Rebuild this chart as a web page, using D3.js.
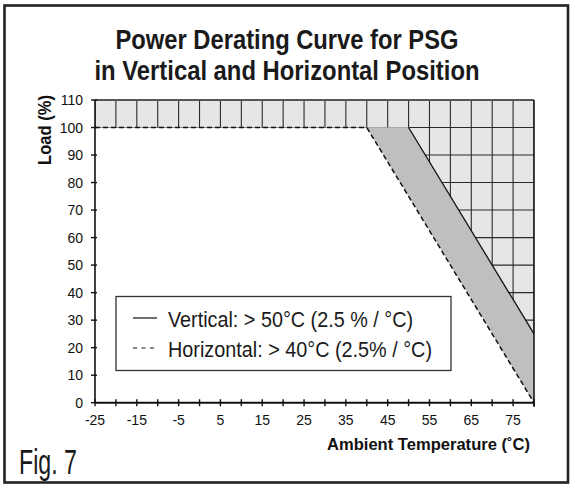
<!DOCTYPE html>
<html>
<head>
<meta charset="utf-8">
<script src="https://cdn.jsdelivr.net/npm/d3@7"></script>
<style>
	body { margin: 0; background: #fff; }
	svg { display: block; font-family: "Liberation Sans", Arial, sans-serif; }
</style>
</head>
<body>
<div id="chart"></div>
<script>
// Chart data
//---------------------------------------------------------------------------
var verticalTemp = [-25, 50, 80];
var verticalLoad = [100, 100, 25];
var horizontalTemp = [-25, 40, 80];
var horizontalLoad = [100, 100, 0];
var xTickLabels = [-25, -15, -5, 5, 15, 25, 35, 45, 55, 65, 75];
var xTicks = d3.range(-25, 81, 5);
var yTicks = [0, 10, 20, 30, 40, 50, 60, 70, 80, 90, 100, 110];
var legendLabels = ["Vertical: > 50°C (2.5 % / °C)", "Horizontal: > 40°C (2.5% / °C)"];
var titleLines = ["Power Derating Curve for PSG", "in Vertical and Horizontal Position"];

// Canvas and scales
//---------------------------------------------------------------------------
var W = 571, H = 488;
var svg = d3.select("#chart").append("svg")
	.attr("width", W)
	.attr("height", H);

var x = d3.scaleLinear().domain([-25, 80]).range([95, 534]);
var y = d3.scaleLinear().domain([0, 110]).range([402.7, 100]);

// squeeze text to a narrow face width
function squeeze(sel, w) {
	sel.attr("textLength", w).attr("lengthAdjust", "spacingAndGlyphs");
}

// outer frame
svg.append("rect")
	.attr("x", 4.5).attr("y", 5.5)
	.attr("width", 563.5).attr("height", 477)
	.attr("fill", "none")
	.attr("stroke", "#222")
	.attr("stroke-width", 2.6);

// title
svg.selectAll("text.title")
	.data(titleLines).enter()
	.append("text")
	.attr("class", "title")
	.attr("x", 287)
	.attr("y", function(d, i) { return 48.5 + i * 31; })
	.attr("text-anchor", "middle")
	.attr("font-size", "28px")
	.attr("font-weight", "bold")
	.attr("fill", "#1a1a1a")
	.text(function(d) { return d; })
	.each(function(d, i) { squeeze(d3.select(this), i == 0 ? 343 : 385); });

// Plot regions
//---------------------------------------------------------------------------
var vert = verticalTemp.map(function(t, i) { return [t, verticalLoad[i]]; });
var horiz = horizontalTemp.map(function(t, i) { return [t, horizontalLoad[i]]; });
var line = d3.line()
	.x(function(d) { return x(d[0]); })
	.y(function(d) { return y(d[1]); });

// region above the vertical curve (gridded)
var gridArea = [[-25, 110], [80, 110]].concat(vert.slice().reverse());
svg.append("clipPath").attr("id", "gridClip")
	.append("path").attr("d", line(gridArea) + "Z");

svg.append("path")
	.attr("d", line(gridArea) + "Z")
	.attr("fill", "#e6e6e6");

var grid = svg.append("g").attr("clip-path", "url(#gridClip)")
	.attr("stroke", "#2a2a2a")
	.attr("stroke-width", 1.1);
grid.selectAll("line.v")
	.data(xTicks).enter()
	.append("line")
	.attr("x1", function(d) { return x(d); })
	.attr("x2", function(d) { return x(d); })
	.attr("y1", y(0)).attr("y2", y(110));
grid.selectAll("line.h")
	.data(yTicks).enter()
	.append("line")
	.attr("x1", x(-25)).attr("x2", x(80))
	.attr("y1", function(d) { return y(d); })
	.attr("y2", function(d) { return y(d); });

// band between horizontal and vertical curves
var band = horiz.slice(1).concat(vert.slice(1).reverse());
svg.append("path")
	.attr("d", line(band) + "Z")
	.attr("fill", "#bfbfbf");

// plot border top and right
svg.append("line")
	.attr("x1", x(-25)).attr("x2", x(80))
	.attr("y1", y(110)).attr("y2", y(110))
	.attr("stroke", "#555").attr("stroke-width", 2);
svg.append("line")
	.attr("x1", x(80)).attr("x2", x(80))
	.attr("y1", y(110)).attr("y2", y(0) + 4)
	.attr("stroke", "#1a1a1a").attr("stroke-width", 1.6);

// curves
svg.append("path")
	.attr("d", line(vert.slice(1)))
	.attr("fill", "none")
	.attr("stroke", "#111")
	.attr("stroke-width", 1.3);
svg.append("path")
	.attr("d", line(horiz))
	.attr("fill", "none")
	.attr("stroke", "#111")
	.attr("stroke-width", 1.5)
	.attr("stroke-dasharray", "5,3");

// Axes
//---------------------------------------------------------------------------
var axisG = svg.append("g").attr("stroke", "#111");
axisG.append("line")
	.attr("x1", x(-25)).attr("x2", x(-25))
	.attr("y1", y(0)).attr("y2", y(110))
	.attr("stroke-width", 1.6);
axisG.append("line")
	.attr("x1", x(-25)).attr("x2", x(80))
	.attr("y1", y(0)).attr("y2", y(0))
	.attr("stroke-width", 2);
axisG.selectAll("line.yt")
	.data(yTicks).enter()
	.append("line")
	.attr("x1", x(-25) - 4).attr("x2", x(-25) + 2)
	.attr("y1", function(d) { return y(d); })
	.attr("y2", function(d) { return y(d); })
	.attr("stroke-width", 1.4);
axisG.selectAll("line.xt")
	.data(xTicks).enter()
	.append("line")
	.attr("x1", function(d) { return x(d); })
	.attr("x2", function(d) { return x(d); })
	.attr("y1", y(0) - 3.5).attr("y2", y(0) + 3.5)
	.attr("stroke-width", 1.4);

svg.selectAll("text.ylab")
	.data(yTicks).enter()
	.append("text")
	.attr("x", 83)
	.attr("y", function(d) { return y(d); })
	.attr("dy", "0.36em")
	.attr("text-anchor", "end")
	.attr("font-size", "14px")
	.attr("fill", "#111")
	.text(function(d) { return d; });

svg.selectAll("text.xlab")
	.data(xTickLabels).enter()
	.append("text")
	.attr("x", function(d) { return x(d); })
	.attr("y", y(0) + 22.5)
	.attr("text-anchor", "middle")
	.attr("font-size", "14px")
	.attr("fill", "#111")
	.text(function(d) { return d; });

// axis titles
svg.append("text")
	.attr("transform", "translate(51,130) rotate(-90)")
	.attr("text-anchor", "middle")
	.attr("font-size", "18px")
	.attr("font-weight", "bold")
	.attr("fill", "#111")
	.text("Load (%)")
	.call(squeeze, 70);

svg.append("text")
	.attr("x", 327)
	.attr("y", 450)
	.attr("font-size", "17px")
	.attr("font-weight", "bold")
	.attr("fill", "#111")
	.text("Ambient Temperature (˚C)")
	.call(squeeze, 203);

// Legend
//---------------------------------------------------------------------------
var legend = svg.append("g");
legend.append("rect")
	.attr("x", 116).attr("y", 296.5)
	.attr("width", 335).attr("height", 74)
	.attr("fill", "#fff")
	.attr("stroke", "#333")
	.attr("stroke-width", 1.3);
legend.selectAll("line")
	.data(legendLabels).enter()
	.append("line")
	.attr("x1", 133).attr("x2", 157)
	.attr("y1", function(d, i) { return 318 + i * 30; })
	.attr("y2", function(d, i) { return 318 + i * 30; })
	.attr("stroke", "#111")
	.attr("stroke-width", 1.2)
	.attr("stroke-dasharray", function(d, i) { return i == 0 ? null : "4,4.5"; });
legend.selectAll("text")
	.data(legendLabels).enter()
	.append("text")
	.attr("x", 168)
	.attr("y", function(d, i) { return 326.5 + i * 30; })
	.attr("font-size", "22px")
	.attr("fill", "#1a1a1a")
	.text(function(d) { return d; })
	.each(function(d, i) { squeeze(d3.select(this), i == 0 ? 245 : 264); });

// figure number
svg.append("text")
	.attr("x", 19)
	.attr("y", 474)
	.attr("font-size", "35px")
	.attr("fill", "#1a1a1a")
	.text("Fig. 7")
	.call(squeeze, 58);
</script>
</body>
</html>
